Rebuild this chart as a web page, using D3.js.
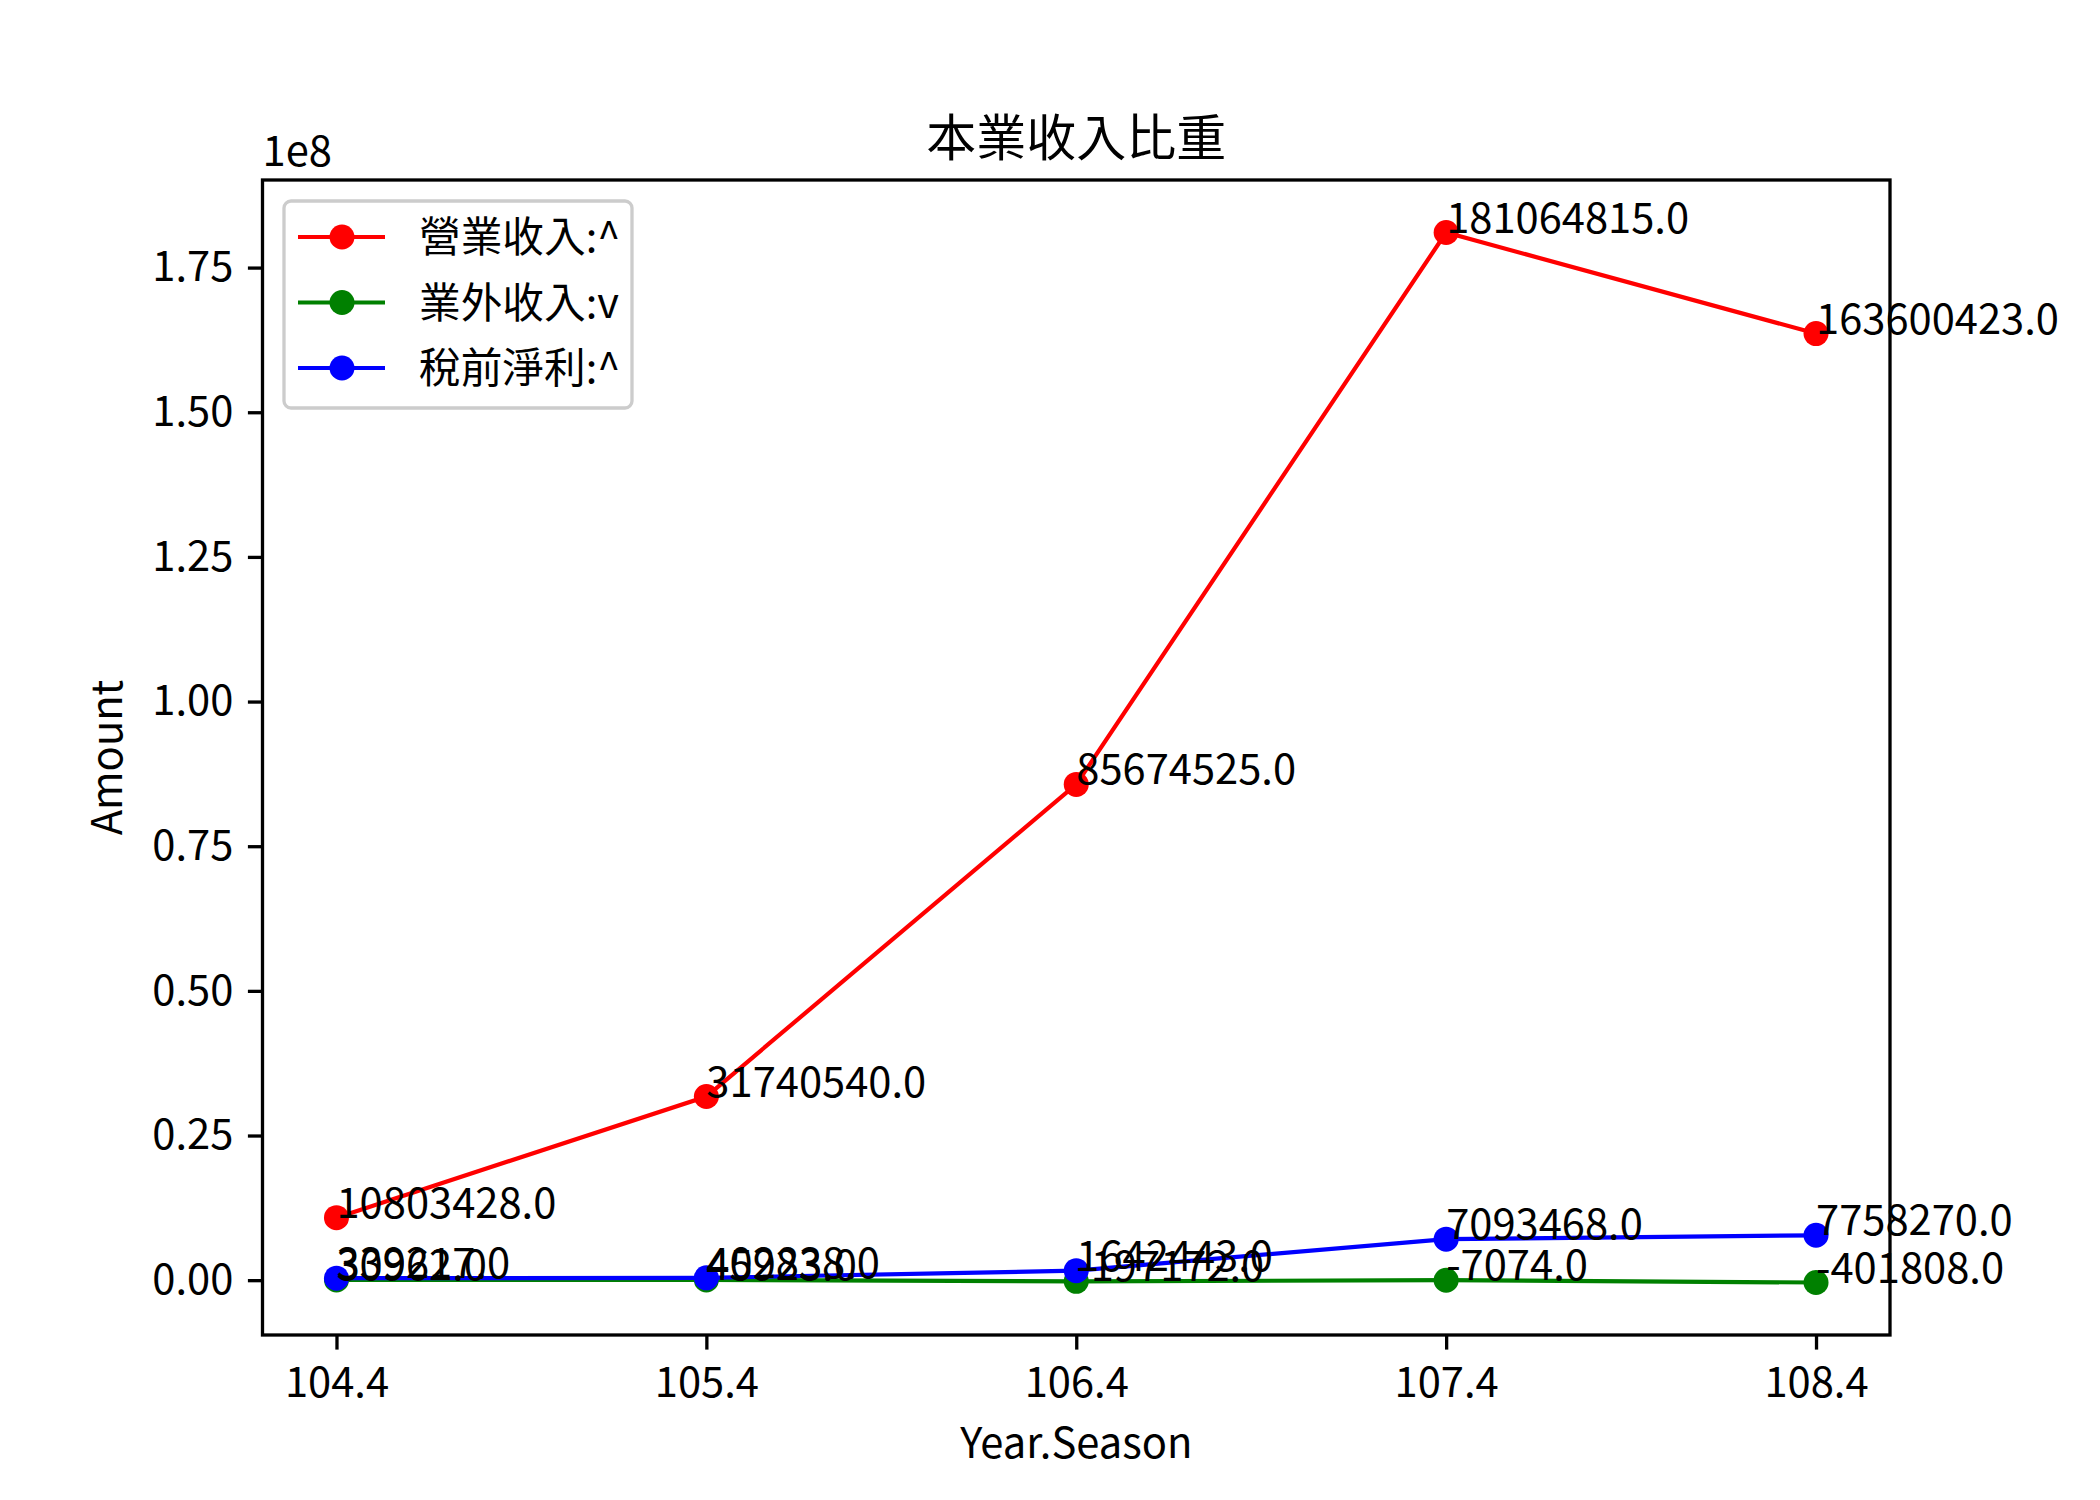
<!DOCTYPE html>
<html><head><meta charset="utf-8">
<script src="https://cdn.jsdelivr.net/npm/d3@7"></script>
<style>body{margin:0;background:#fff;} text{font-family:"Noto Sans CJK TC","Noto Sans CJK JP",sans-serif;}</style>
</head><body>
<svg id="c" width="2100" height="1500"></svg>
<script>
const categories = ["104.4","105.4","106.4","107.4","108.4"];
const seriesNames = ["營業收入:^","業外收入:v","稅前淨利:^"];
const seriesColors = ["#ff0000","#008000","#0000ff"];
const operatingIncome = [10803428, 31740540, 85674525, 181064815, 163600423];
const nonOperatingIncome = [30962, 45923, -197172, -7074, -401808];
const preTaxProfit = [339217, 402838, 1642443, 7093468, 7758270];
const yTicks = [0, 0.25e8, 0.5e8, 0.75e8, 1.0e8, 1.25e8, 1.5e8, 1.75e8];
const title = "本業收入比重";

const series = [operatingIncome, nonOperatingIncome, preTaxProfit];
const svg = d3.select("#c");
const L = 262.5, R = 1890, T = 180, B = 1335;
const fs = 41.7;
const allV = series.flat();
const mn = d3.min(allV), mx = d3.max(allV), sp = mx - mn;
const y = d3.scaleLinear().domain([mn - 0.05*sp, mx + 0.05*sp]).range([B, T]);
const x = d3.scaleLinear().domain([-0.2, 4.2]).range([L, R]);

// lines
const line = d3.line().x((d,i)=>x(i)).y(d=>y(d));
series.forEach((s,k)=>{
  svg.append("path").attr("d", line(s)).attr("fill","none").attr("stroke",seriesColors[k]).attr("stroke-width",4.2);
  svg.selectAll(null).data(s).enter().append("circle")
    .attr("cx",(d,i)=>x(i)).attr("cy",d=>y(d)).attr("r",12.5).attr("fill",seriesColors[k]);
});
// annotations
series.forEach((s,k)=>{
  svg.selectAll(null).data(s).enter().append("text")
    .attr("x",(d,i)=>x(i)).attr("y",d=>y(d)).attr("font-size",fs).attr("fill","#000")
    .text(d=>d.toFixed(1));
});

// axes frame
svg.append("rect").attr("x",L).attr("y",T).attr("width",R-L).attr("height",B-T)
  .attr("fill","none").attr("stroke","#000").attr("stroke-width",3.3);

// x axis
const xa = svg.append("g").attr("transform",`translate(0,${B})`)
  .call(d3.axisBottom(x).tickValues(d3.range(categories.length)).tickFormat(i=>categories[i]).tickSize(14.6).tickPadding(14.6));
xa.select(".domain").remove();
xa.selectAll("line").attr("stroke-width",3.3);
xa.selectAll("text").attr("font-size",fs).attr("font-family","Noto Sans CJK TC").attr("dy","0.78em");

const ya = svg.append("g").attr("transform",`translate(${L},0)`)
  .call(d3.axisLeft(y).tickValues(yTicks).tickFormat(v=>(v/1e8).toFixed(2)).tickSize(14.6).tickPadding(14.6));
ya.select(".domain").remove();
ya.selectAll("line").attr("stroke-width",3.3);
ya.selectAll("text").attr("font-size",fs).attr("font-family","Noto Sans CJK TC");

svg.append("text").attr("x",L).attr("y",166).attr("font-size",fs).text("1e8");
svg.append("text").attr("x",(L+R)/2).attr("y",156).attr("text-anchor","middle").attr("font-size",50).text(title);
svg.append("text").attr("x",(L+R)/2).attr("y",1458).attr("text-anchor","middle").attr("font-size",fs).text("Year.Season");
svg.append("text").attr("transform",`translate(122,${(T+B)/2}) rotate(-90)`).attr("text-anchor","middle").attr("font-size",fs).text("Amount");

// legend
const lg = svg.append("g");
lg.append("rect").attr("x",284).attr("y",201).attr("width",348).attr("height",207).attr("rx",7)
  .attr("fill","#fff").attr("fill-opacity",0.8).attr("stroke","#cccccc").attr("stroke-width",3.3);
seriesNames.forEach((n,k)=>{
  const yy = 237 + k*65.5;
  lg.append("line").attr("x1",298).attr("x2",385).attr("y1",yy).attr("y2",yy).attr("stroke",seriesColors[k]).attr("stroke-width",4.2);
  lg.append("circle").attr("cx",342).attr("cy",yy).attr("r",12.5).attr("fill",seriesColors[k]);
  lg.append("text").attr("x",419).attr("y",yy).attr("dy","0.36em").attr("font-size",fs).text(n);
});
</script>
</body></html>
